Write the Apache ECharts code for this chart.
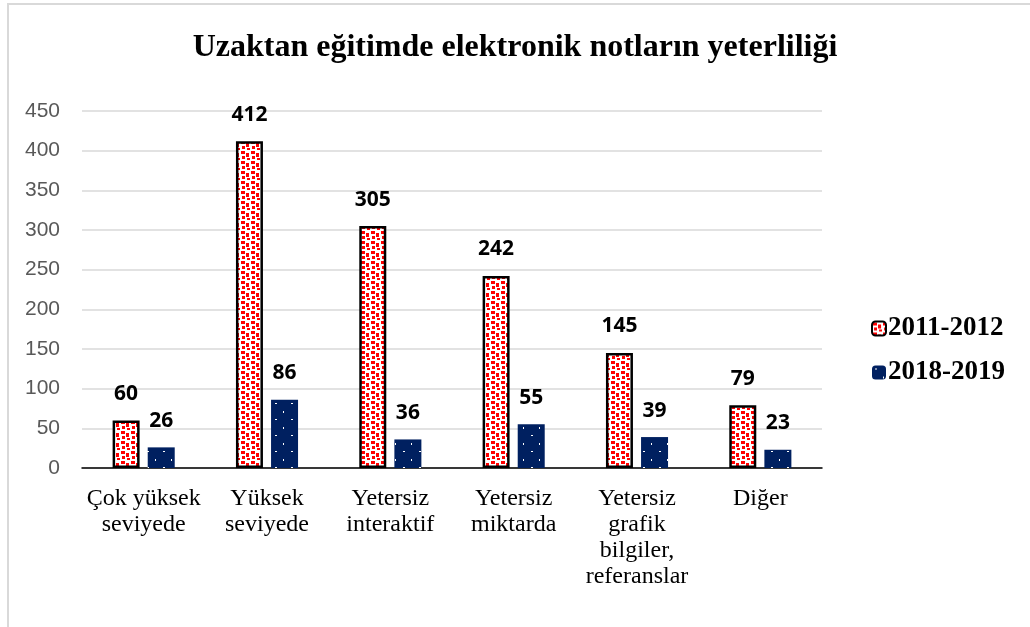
<!DOCTYPE html>
<html>
<head>
<meta charset="utf-8">
<script src="https://cdn.jsdelivr.net/npm/echarts@6/dist/echarts.min.js"></script>
<style>
  html, body { margin: 0; padding: 0; background: #fff; }
  #chart { position: absolute; left: 0; top: 0; width: 1030px; height: 627px; }
  #frame { position: absolute; left: 7px; top: 3px; width: 1030px; height: 640px;
           border-left: 2px solid #d9d9d9; border-top: 2px solid #d9d9d9; }
</style>
</head>
<body>
<div id="frame"></div>
<div id="chart"></div>
<script>
const categories = ['Çok yüksek\nseviyede', 'Yüksek\nseviyede', 'Yetersiz\ninteraktif', 'Yetersiz\nmiktarda', 'Yetersiz\ngrafik\nbilgiler,\nreferanslar', 'Diğer']
const values2011 = [60, 412, 305, 242, 145, 79]
const values2018 = [26, 86, 36, 55, 39, 23]
const yTicks = { min: 0, max: 450, interval: 50 }

// red square fill like the office pattern
function redPattern() {
  const c = document.createElement('canvas')
  c.width = 10
  c.height = 10
  const ctx = c.getContext('2d')
  ctx.fillStyle = '#ffffff'
  ctx.fillRect(0, 0, 10, 10)
  ctx.fillStyle = '#ff0000'
  ctx.fillRect(1, 1, 4, 3)
  ctx.fillRect(6, 3, 3, 4)
  ctx.fillRect(2, 6, 3, 3)
  ctx.fillRect(7, 8, 3, 2)
  return c
}

// navy with sparse white dots
function bluePattern() {
  const c = document.createElement('canvas')
  c.width = 16
  c.height = 16
  const ctx = c.getContext('2d')
  ctx.fillStyle = '#002060'
  ctx.fillRect(0, 0, 16, 16)
  ctx.fillStyle = '#ffffff'
  ctx.fillRect(3, 3, 2, 1)
  ctx.fillRect(11, 11, 1, 2)
  return c
}

const chart = echarts.init(document.getElementById('chart'), null, { renderer: 'canvas' })

const labelStyle = {
  show: true,
  position: 'top',
  distance: 16,
  color: '#000',
  fontFamily: 'Noto Sans',
  fontWeight: 'bold',
  fontSize: 21
}

chart.setOption({
  animation: false,
  title: {
    text: 'Uzaktan eğitimde elektronik notların yeterliliği',
    left: 'center',
    top: 27,
    textStyle: {
      fontFamily: 'Liberation Serif',
      fontWeight: 'bold',
      fontSize: 32,
      color: '#000'
    }
  },
  legend: {
    orient: 'vertical',
    left: 866,
    top: 310,
    itemWidth: 14,
    itemHeight: 14,
    itemGap: 17,
    textStyle: {
      fontFamily: 'Liberation Serif',
      fontWeight: 'bold',
      fontSize: 27,
      color: '#000',
      padding: [0, 0, 0, -3]
    },
    data: ['2011-2012', '2018-2019']
  },
  grid: {
    left: 82,
    right: 208,
    top: 111,
    bottom: 159
  },
  xAxis: {
    type: 'category',
    data: categories,
    axisLine: { lineStyle: { color: '#000', width: 1.5 } },
    axisTick: { length: 6, lineStyle: { color: '#000', width: 1.5 } },
    axisLabel: {
      interval: 0,
      margin: 18,
      fontFamily: 'Liberation Serif',
      fontSize: 24,
      lineHeight: 26,
      color: '#000'
    }
  },
  yAxis: {
    type: 'value',
    min: yTicks.min,
    max: yTicks.max,
    interval: yTicks.interval,
    axisLine: { show: false },
    axisTick: { show: false },
    axisLabel: {
      margin: 22,
      fontFamily: 'Liberation Sans',
      fontSize: 21,
      color: '#595959'
    },
    splitLine: { lineStyle: { color: '#d9d9d9', width: 1.5 } }
  },
  series: [
    {
      name: '2011-2012',
      type: 'bar',
      data: values2011,
      barWidth: 27,
      barGap: '30%',
      itemStyle: {
        color: { image: redPattern(), repeat: 'repeat' },
        borderColor: '#000',
        borderWidth: 2.5
      },
      label: labelStyle
    },
    {
      name: '2018-2019',
      type: 'bar',
      data: values2018,
      barWidth: 27,
      itemStyle: {
        color: { image: bluePattern(), repeat: 'repeat' }
      },
      label: labelStyle
    }
  ]
})
</script>
</body>
</html>
